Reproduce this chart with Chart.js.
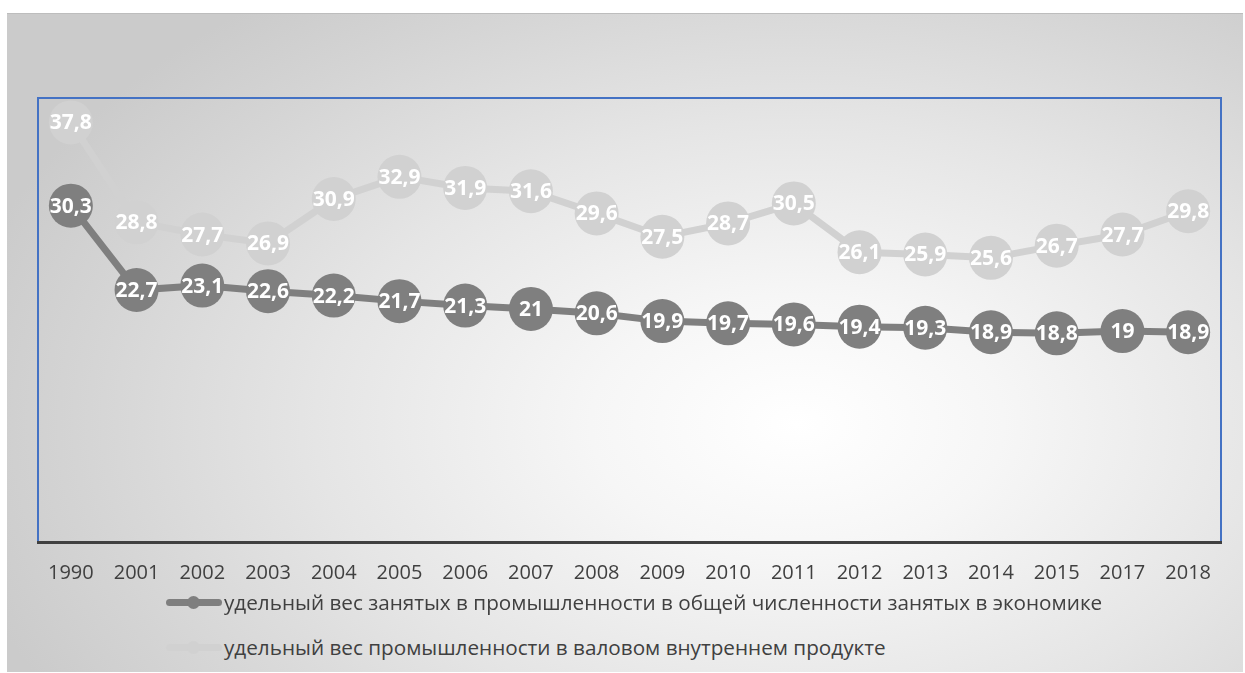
<!DOCTYPE html>
<html>
<head>
<meta charset="utf-8">
<script src="https://cdn.jsdelivr.net/npm/chart.js@4"></script>
<style>
  body { margin: 0; background: #fff; width: 1245px; height: 673px; overflow: hidden; }
  #box {
    position: absolute; left: 7px; top: 13px; width: 1236px; height: 658px;
    border-top: 1px solid #bdbdbd;
    background: radial-gradient(ellipse 860px 540px at 790px 410px, #ffffff 0%, #f6f6f6 24%, #e5e5e5 56%, #d4d4d4 84%, #cbcbcb 100%);
  }
  #myChart { position: absolute; left: 0; top: 0; }
  .leg { position: absolute; left: 159px; height: 26px; display: flex; align-items: center;
         font-family: "Open Sans", sans-serif; font-size: 20.7px; color: #404040; white-space: nowrap; }
  .sym { position: relative; width: 56px; height: 26px; margin-right: 2px; }
  .sym .ln { position: absolute; left: 0; right: 0; top: 10px; height: 7px; border-radius: 4px; }
  .sym .dot { position: absolute; left: 21px; top: 7px; width: 13px; height: 13px; border-radius: 50%; }
</style>
</head>
<body>
<div id="box">
  <canvas id="myChart" width="1236" height="600"></canvas>
  <div class="leg" id="leg1" style="top:575px"></div>
  <div class="leg" id="leg2" style="top:620px"></div>
</div>
<script>
const years = ["1990", "2001", "2002", "2003", "2004", "2005", "2006", "2007", "2008",
	"2009", "2010", "2011", "2012", "2013", "2014", "2015", "2017", "2018"];
const employmentShare = [30.3, 22.7, 23.1, 22.6, 22.2, 21.7, 21.3, 21, 20.6,
	19.9, 19.7, 19.6, 19.4, 19.3, 18.9, 18.8, 19, 18.9];
const gdpShare = [37.8, 28.8, 27.7, 26.9, 30.9, 32.9, 31.9, 31.6, 29.6,
	27.5, 28.7, 30.5, 26.1, 25.9, 25.6, 26.7, 27.7, 29.8];
const seriesNames = [
	"удельный вес занятых в промышленности в общей численности занятых в экономике",
	"удельный вес промышленности в валовом внутреннем продукте",
];
const darkGrey = "#7f7f7f";
const lightGrey = "#d1d1d1";

// frame of the plot area (blue)
const frame = {
	id: "frame",
	beforeDraw(chart) {
		const a = chart.chartArea;
		const c = chart.ctx;
		c.save();
		c.strokeStyle = "#4472c4";
		c.lineWidth = 2;
		c.strokeRect(a.left, a.top, a.right - a.left, a.bottom - a.top);
		c.restore();
	},
};

// value labels in the middle of each marker
const valueLabels = {
	id: "valueLabels",
	afterDatasetsDraw(chart) {
		const c = chart.ctx;
		c.save();
		c.fillStyle = "#ffffff";
		c.font = "bold 21px 'Open Sans'";
		c.textAlign = "center";
		c.textBaseline = "middle";
		chart.data.datasets.forEach((ds, i) => {
			chart.getDatasetMeta(i).data.forEach((pt, j) => {
				c.fillText(String(ds.data[j]).replace(".", ","), pt.x, pt.y + 1);
			});
		});
		c.restore();
	},
};

const ctx = document.getElementById("myChart");

const data = {
	labels: years,
	datasets: [
		{
			label: seriesNames[0],
			data: employmentShare,
			borderColor: darkGrey,
			backgroundColor: darkGrey,
			borderWidth: 7,
			pointRadius: 22,
			pointBorderWidth: 0,
			pointBackgroundColor: darkGrey,
			tension: 0,
		},
		{
			label: seriesNames[1],
			data: gdpShare,
			borderColor: lightGrey,
			backgroundColor: lightGrey,
			borderWidth: 7,
			pointRadius: 22,
			pointBorderWidth: 0,
			pointBackgroundColor: lightGrey,
			tension: 0,
		},
	],
};

const config = {
	type: "line",
	data: data,
	options: {
		responsive: false,
		animation: false,
		events: [],
		layout: { padding: { left: 31, right: 9, top: 84, bottom: 0 } },
		plugins: {
			legend: { display: false },
			tooltip: { enabled: false },
		},
		scales: {
			x: {
				offset: true,
				grid: { display: false, drawTicks: false },
				border: { display: true, color: "#404040", width: 3 },
				ticks: {
					color: "#404040",
					font: { family: "'Open Sans'", size: 20 },
					padding: 19,
					maxRotation: 0,
					autoSkip: false,
				},
				afterFit(scale) { scale.height = 72; },
			},
			y: {
				display: false,
				min: 0,
				max: 40,
			},
		},
	},
	plugins: [frame, valueLabels],
};

new Chart(ctx, config);

// legend rows, left aligned like the original
[["leg1", darkGrey], ["leg2", lightGrey]].forEach(([id, col], i) => {
	const el = document.getElementById(id);
	el.innerHTML = '<span class="sym"><span class="ln" style="background:' + col +
		'"></span><span class="dot" style="background:' + col + '"></span></span>';
	const t = document.createElement("span");
	t.textContent = seriesNames[i];
	el.appendChild(t);
});
</script>
</body>
</html>
